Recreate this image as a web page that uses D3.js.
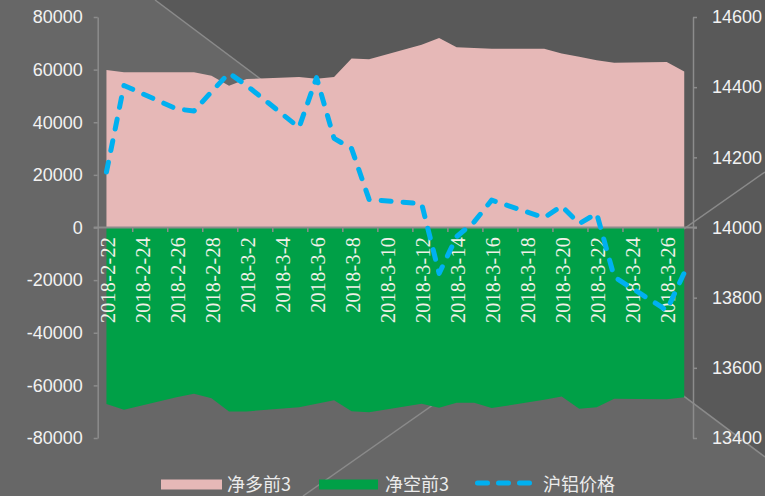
<!DOCTYPE html>
<html><head><meta charset="utf-8">
<script src="https://cdn.jsdelivr.net/npm/d3@7"></script>
<style>body{margin:0;background:#666}svg{display:block}</style>
</head><body>
<svg id="c" width="765" height="496"></svg>
<script>
// ---- data ----
const dates = ["2018-02-22","2018-02-23","2018-02-26","2018-02-27","2018-02-28","2018-03-01","2018-03-02",
  "2018-03-05","2018-03-06","2018-03-07","2018-03-08","2018-03-09","2018-03-12","2018-03-13","2018-03-14",
  "2018-03-15","2018-03-16","2018-03-19","2018-03-20","2018-03-21","2018-03-22","2018-03-23","2018-03-26","2018-03-27"];
const netLong = [59900,59000,59000,59000,57700,53900,56400,57200,56500,57200,64200,63900,69500,72000,68500,
  68200,67900,67900,66100,64900,63600,62600,62900,59300];
const netShort = [-67100,-69300,-64500,-63200,-64900,-69900,-69900,-68300,-67000,-65700,-69800,-70200,-67000,-68500,-66600,
  -66600,-68600,-65500,-64200,-68900,-68300,-65100,-65300,-64500];
const price = [14158,14405,14338,14332,14387,14440,14405,14285,14427,14254,14225,14080,14068,13869,13974,
  14016,14078,14028,14061,14011,14040,13859,13764,13871];
const leftTicks = [-80000,-60000,-40000,-20000,0,20000,40000,60000,80000];
const rightTicks = [13400,13600,13800,14000,14200,14400,14600];
const xTickLabels = ["2018-2-22","2018-2-24","2018-2-26","2018-2-28","2018-3-2","2018-3-4","2018-3-6","2018-3-8",
  "2018-3-10","2018-3-12","2018-3-14","2018-3-16","2018-3-18","2018-3-20","2018-3-22","2018-3-24","2018-3-26"];
const seriesNames = ["净多前3","净空前3","沪铝价格"];
const colors = ["#e6b8b7","#00a047","#00b0f0"];

// ---- setup ----
const svg = d3.select("#c");
const W = 765, H = 496;
const L = 97.7, R = 693, T = 17, B = 438;
const parse = s => { const [y,m,d] = s.split("-").map(Number); return new Date(Date.UTC(y,m-1,d)); };
const DAY = 864e5;
const first = parse(dates[0]), last = parse(dates[dates.length-1]);
const x = d3.scaleUtc().domain([new Date(+first - DAY/2), new Date(+last + DAY/2)]).range([L, R]);
const yL = d3.scaleLinear().domain([-80000, 80000]).range([B, T]);
const yR = d3.scaleLinear().domain([13400, 14600]).range([B, T]);

// background
svg.append("rect").attr("width", W).attr("height", H).attr("fill", "#676767");
svg.append("polygon").attr("points", "155,0 765,0 765,457").attr("fill", "#595959");
svg.append("line").attr("x1",155).attr("y1",0).attr("x2",765).attr("y2",457)
  .attr("stroke","#8a8a8a").attr("stroke-width",1.5);
svg.append("line").attr("x1",303).attr("y1",496).attr("x2",765).attr("y2",172)
  .attr("stroke","#8a8a8a").attr("stroke-width",1.5);

const pts = dates.map((d,i) => ({t: parse(d), l: netLong[i], s: netShort[i], p: price[i]}));

// areas
svg.append("path").datum(pts).attr("fill", colors[0])
  .attr("d", d3.area().x(d => x(d.t)).y0(yL(0)).y1(d => yL(d.l)));
svg.append("path").datum(pts).attr("fill", colors[1])
  .attr("d", d3.area().x(d => x(d.t)).y0(yL(0)).y1(d => yL(d.s)));

const axisColor = "#8c8c8c";
const numFont = "'Liberation Sans', Arial, sans-serif";

// left axis
const gL = svg.append("g").attr("transform", `translate(${L},0)`)
  .call(d3.axisLeft(yL).tickValues(leftTicks).tickFormat(d => String(d)).tickSize(4).tickSizeOuter(0).tickPadding(11));
gL.select(".domain").attr("stroke", axisColor).attr("stroke-width", 1.5);
gL.selectAll(".tick line").attr("stroke", axisColor).attr("stroke-width", 1.5);
gL.selectAll(".tick text").attr("fill", "#f2f2f2").style("font-family", numFont).style("font-size", "18px");

// right axis
const gR = svg.append("g").attr("transform", `translate(${R},0)`)
  .call(d3.axisRight(yR).tickValues(rightTicks).tickFormat(d => String(d)).tickSize(4).tickSizeOuter(0).tickPadding(15));
gR.select(".domain").attr("stroke", axisColor).attr("stroke-width", 1.5);
gR.selectAll(".tick line").attr("stroke", axisColor).attr("stroke-width", 1.5);
gR.selectAll(".tick text").attr("fill", "#f2f2f2").style("font-family", numFont).style("font-size", "18px");

// x axis (at zero)
const y0 = yL(0);
const xTickPos = xTickLabels.map(s => new Date(+parse(s) + DAY * 1.5)).filter(d => d < x.domain()[1]);
svg.append("line").attr("x1", L - 4).attr("x2", R + 4).attr("y1", y0).attr("y2", y0)
  .attr("stroke", axisColor).attr("stroke-width", 2);
svg.append("g").selectAll("line").data(xTickPos).join("line")
  .attr("x1", d => x(d)).attr("x2", d => x(d)).attr("y1", y0).attr("y2", y0 + 4.5)
  .attr("stroke", axisColor).attr("stroke-width", 1.5);
svg.append("g").selectAll("text").data(xTickLabels).join("text")
  .attr("transform", d => `translate(${x(parse(d)) + 1.5},${y0 + 9.5}) rotate(-90)`)
  .attr("text-anchor", "end").attr("dy", "0.35em")
  .attr("fill", "#f0f0e8")
  .style("font-family", "'Liberation Serif', 'Times New Roman', serif").style("font-size", "20px")
  .style("letter-spacing", "0.3px")
  .text(d => d);

// price line
svg.append("path").datum(pts).attr("fill", "none").attr("stroke", colors[2])
  .attr("stroke-width", 5).attr("stroke-dasharray", "10 12").attr("stroke-linecap", "round").attr("stroke-linejoin", "round")
  .attr("d", d3.line().x(d => x(d.t)).y(d => yR(d.p)));

// legend
const lg = svg.append("g").style("font-family", "'Noto Sans CJK SC', sans-serif").style("font-size", "18px");
const items = [
  {sx: 161, sw: 61, tx: 227},
  {sx: 319, sw: 59, tx: 385},
  {sx: 475, sw: 57, tx: 543}
];
items.forEach((it, i) => {
  if (i < 2) {
    lg.append("rect").attr("x", it.sx).attr("y", 479.5).attr("width", it.sw).attr("height", 10).attr("fill", colors[i]);
  } else {
    lg.append("line").attr("x1", it.sx + 2.5).attr("x2", it.sx + it.sw - 2.5).attr("y1", 483).attr("y2", 483)
      .attr("stroke", colors[2]).attr("stroke-width", 5).attr("stroke-linecap", "round").attr("stroke-dasharray", "10 11");
  }
  lg.append("text").attr("x", it.tx).attr("y", 491).attr("fill", "#ececec").text(seriesNames[i]);
});
</script>
</body></html>
